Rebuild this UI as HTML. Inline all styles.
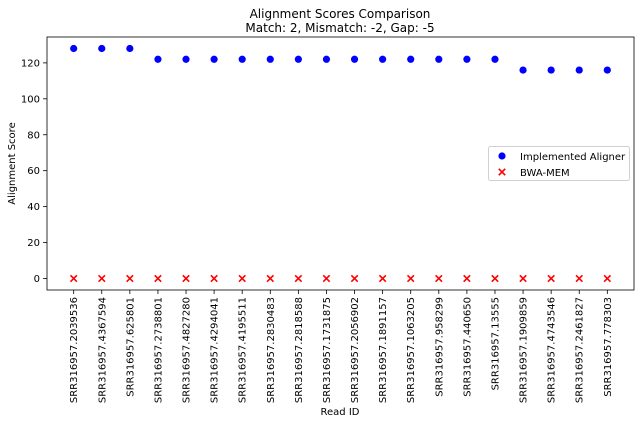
<!DOCTYPE html>
<html><head><meta charset="utf-8"><style>
body{margin:0;background:#fff;}
svg{display:block;font-family:"DejaVu Sans","Liberation Sans",sans-serif;}
</style></head><body>
<svg id="chart" width="640" height="424"></svg>
<script>
const readIds=["SRR316957.2039536","SRR316957.4367594","SRR316957.625801","SRR316957.2738801","SRR316957.4827280","SRR316957.4294041","SRR316957.4195511","SRR316957.2830483","SRR316957.2818588","SRR316957.1731875","SRR316957.2056902","SRR316957.1891157","SRR316957.1063205","SRR316957.958299","SRR316957.440650","SRR316957.13555","SRR316957.1909859","SRR316957.4743546","SRR316957.2461827","SRR316957.778303"];
const implementedScores=[128,128,128,122,122,122,122,122,122,122,122,122,122,122,122,122,116,116,116,116];
const bwaScores=[0,0,0,0,0,0,0,0,0,0,0,0,0,0,0,0,0,0,0,0];
const yTicks=[0,20,40,60,80,100,120];

const NS="http://www.w3.org/2000/svg";
const svg=document.getElementById('chart');
const L=47,R=634,T=37,B=290;
const xMin=-0.95,xMax=readIds.length-1+0.95;
const yMin=-6.4,yMax=134.4;
const xs=i=>L+(i-xMin)/(xMax-xMin)*(R-L);
const ys=v=>B-(v-yMin)/(yMax-yMin)*(B-T);
function mk(tag,attrs,parent){const e=document.createElementNS(NS,tag);for(const k in attrs)e.setAttribute(k,attrs[k]);(parent||svg).appendChild(e);return e;}

let t=mk('text',{x:340,y:18,'text-anchor':'middle','font-size':12,fill:'#000'});t.textContent='Alignment Scores Comparison';


t=mk('text',{x:340,y:32,'text-anchor':'middle','font-size':12,fill:'#000'});t.textContent='Match: 2, Mismatch: -2, Gap: -5';



yTicks.forEach(v=>{
  const y=ys(v);
  const l=mk('line',{x1:L-4,x2:L,y1:y,y2:y,stroke:'#000','stroke-width':0.8});
  
  
  const tx=mk('text',{x:L-7,y:y+3.5,'text-anchor':'end','font-size':10,fill:'#000'});tx.textContent=v;
  
  
});
readIds.forEach((id,i)=>{
  const x=xs(i);
  const l=mk('line',{x1:x,x2:x,y1:B,y2:B+4,stroke:'#000','stroke-width':0.8});
  
  
  const tx=mk('text',{x:0,y:0,'text-anchor':'end','font-size':10,fill:'#000',transform:`translate(${x+3.5},${B+7}) rotate(-90)`});tx.textContent=id;
  
  
});
t=mk('text',{x:340,y:415,'text-anchor':'middle','font-size':10,fill:'#000'});t.textContent='Read ID';


t=mk('text',{x:0,y:0,'text-anchor':'middle','font-size':10,fill:'#000',transform:`translate(15,${(T+B)/2}) rotate(-90)`});t.textContent='Alignment Score';



implementedScores.forEach((v,i)=>{
  const c=mk('circle',{cx:xs(i),cy:ys(v),r:3.6,fill:'#0000ff'});
  
  
});
function cross(cx,cy,g){mk('path',{d:`M${cx-3.2},${cy-3.2}L${cx+3.2},${cy+3.2}M${cx-3.2},${cy+3.2}L${cx+3.2},${cy-3.2}`,stroke:'#ff0000','stroke-width':1.6},g);}
bwaScores.forEach((v,i)=>{
  const g=mk('g',{});
  
  
  cross(xs(i),ys(v),g);
});

const frame=mk('rect',{x:L,y:T,width:R-L,height:B-T,fill:'none',stroke:'#000','stroke-width':0.8});



const lg=mk('g',{});


mk('rect',{x:488.5,y:146.5,width:141,height:34,rx:2,fill:'#fff',stroke:'#d0d0d0','stroke-width':1},lg);
mk('circle',{cx:502,cy:156,r:3.6,fill:'#0000ff'},lg);
cross(502,172,lg);
t=mk('text',{x:520,y:160,'font-size':10,fill:'#000'},lg);t.textContent='Implemented Aligner';


t=mk('text',{x:520,y:176,'font-size':10,fill:'#000'},lg);t.textContent='BWA-MEM';


</script>
</body></html>
